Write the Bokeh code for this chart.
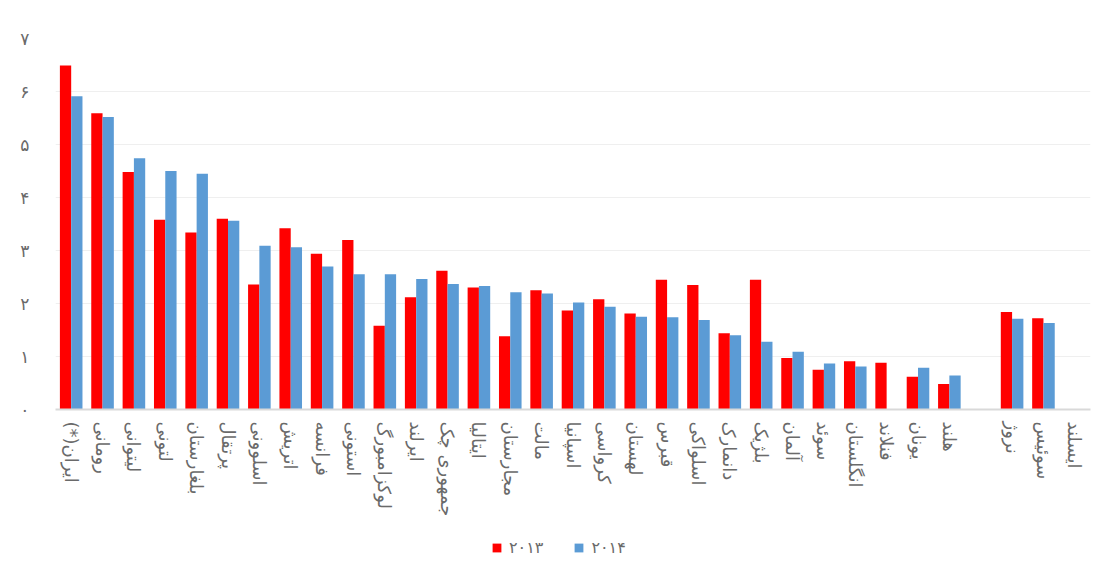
from bokeh.plotting import figure
from bokeh.layouts import column
from bokeh.models import ColumnDataSource, FactorRange, FixedTicker, Legend, LegendItem, Range1d
from bokeh.transform import dodge
from bokeh.embed import file_html
from bokeh.resources import INLINE

countries = ["\u200fایران(*)\u200f", "رومانی", "لیتوانی", "لتونی", "بلغارستان", "پرتقال", "اسلوونی",
             "اتریش", "فرانسه", "استونی", "لوکزامبورگ", "ایرلند", "جمهوری چک", "ایتالیا",
             "مجارستان", "مالت", "اسپانیا", "کرواسی", "لهستان", "قبرس", "اسلواکی", "دانمارک",
             "بلژیک", "آلمان", "سوئد", "انگلستان", "فنلاند", "یونان", "هلند", " ",
             "نروژ", "سوئیس", "ایسلند"]
v2013 = [6.49, 5.59, 4.48, 3.58, 3.34, 3.60, 2.36, 3.42, 2.94, 3.20, 1.58, 2.12, 2.62, 2.30,
         1.38, 2.25, 1.87, 2.08, 1.81, 2.45, 2.35, 1.44, 2.45, 0.97, 0.75, 0.91, 0.88, 0.62,
         0.48, 0.0, 1.84, 1.72, 0.0]
v2014 = [5.91, 5.52, 4.74, 4.50, 4.45, 3.56, 3.09, 3.06, 2.70, 2.55, 2.55, 2.46, 2.37, 2.33,
         2.21, 2.19, 2.02, 1.94, 1.75, 1.74, 1.69, 1.40, 1.28, 1.09, 0.87, 0.81, 0.0, 0.79,
         0.64, 0.0, 1.71, 1.63, 0.0]
series_names = ["۲۰۱۳", "۲۰۱۴"]
series_colors = ["#ff0000", "#5b9bd5"]
y_ticks = [0, 1, 2, 3, 4, 5, 6, 7]
y_tick_labels = ["۰", "۱", "۲", "۳", "۴", "۵", "۶", "۷"]

source = ColumnDataSource(dict(country=countries, y2013=v2013, y2014=v2014))

FONT = "DejaVu Sans"
GRAY = "#6a6a6a"

p = figure(frame_width=1035, frame_height=371,
           x_range=FactorRange(*countries, range_padding=0),
           y_range=(0, 7), output_backend="svg", toolbar_location=None,
           min_border_left=55, min_border_right=16, min_border_top=38, min_border_bottom=111)

p.vbar(x=dodge("country", -0.18, range=p.x_range), top="y2013", width=0.36,
       source=source, color=series_colors[0], line_color=None)
p.vbar(x=dodge("country", 0.18, range=p.x_range), top="y2014", width=0.36,
       source=source, color=series_colors[1], line_color=None)

p.outline_line_color = None
p.xgrid.grid_line_color = None
p.ygrid.grid_line_color = "#efefef"
p.ygrid.grid_line_width = 1

p.yaxis.ticker = FixedTicker(ticks=y_ticks)
p.yaxis.major_label_overrides = {t: l for t, l in zip(y_ticks, y_tick_labels)}
p.yaxis.axis_line_color = None
p.yaxis.major_tick_line_color = None
p.yaxis.minor_tick_line_color = None
p.yaxis.major_label_text_font = FONT
p.yaxis.major_label_text_font_size = "17px"
p.yaxis.major_label_text_color = GRAY
p.yaxis.major_label_standoff = 20

p.xaxis.axis_line_color = "#d9d9d9"
p.xaxis.axis_line_width = 2
p.xaxis.major_tick_line_color = None
p.xaxis.minor_tick_line_color = None
p.xaxis.major_label_orientation = "vertical"
p.xaxis.major_label_text_font = FONT
p.xaxis.major_label_text_font_size = "18px"
p.xaxis.major_label_text_color = GRAY
p.xaxis.major_label_standoff = 6

# legend strip below the chart (swatch bars carry NaN values, so nothing is drawn)
lg = figure(width=1106, height=55, x_range=Range1d(0, 1), y_range=Range1d(0, 1),
            output_backend="svg", toolbar_location=None, x_axis_location=None,
            y_axis_location=None,
            min_border_left=0, min_border_right=0, min_border_top=0, min_border_bottom=0)
lg.grid.grid_line_color = None
lg.outline_line_color = None
lg.background_fill_color = None
lg.border_fill_color = None
swatch = ColumnDataSource(dict(x=[0.5], bottom=[float("nan")], top=[float("nan")]))
items = []
for name, col in zip(series_names, series_colors):
    r = lg.vbar(x="x", bottom="bottom", top="top", width=0.1, source=swatch,
                color=col, line_color=None)
    items.append(LegendItem(label=name, renderers=[r]))
legend = Legend(items=items, orientation="horizontal", location=(436, 18),
                glyph_width=11, glyph_height=11, spacing=30, label_standoff=7,
                label_text_font=FONT, label_text_font_size="16px", label_text_color=GRAY,
                border_line_color=None, background_fill_alpha=0, margin=0, padding=0)
lg.add_layout(legend, "center")

layout = column(p, lg, spacing=0)
open("out.html", "w").write(file_html(layout, INLINE))
